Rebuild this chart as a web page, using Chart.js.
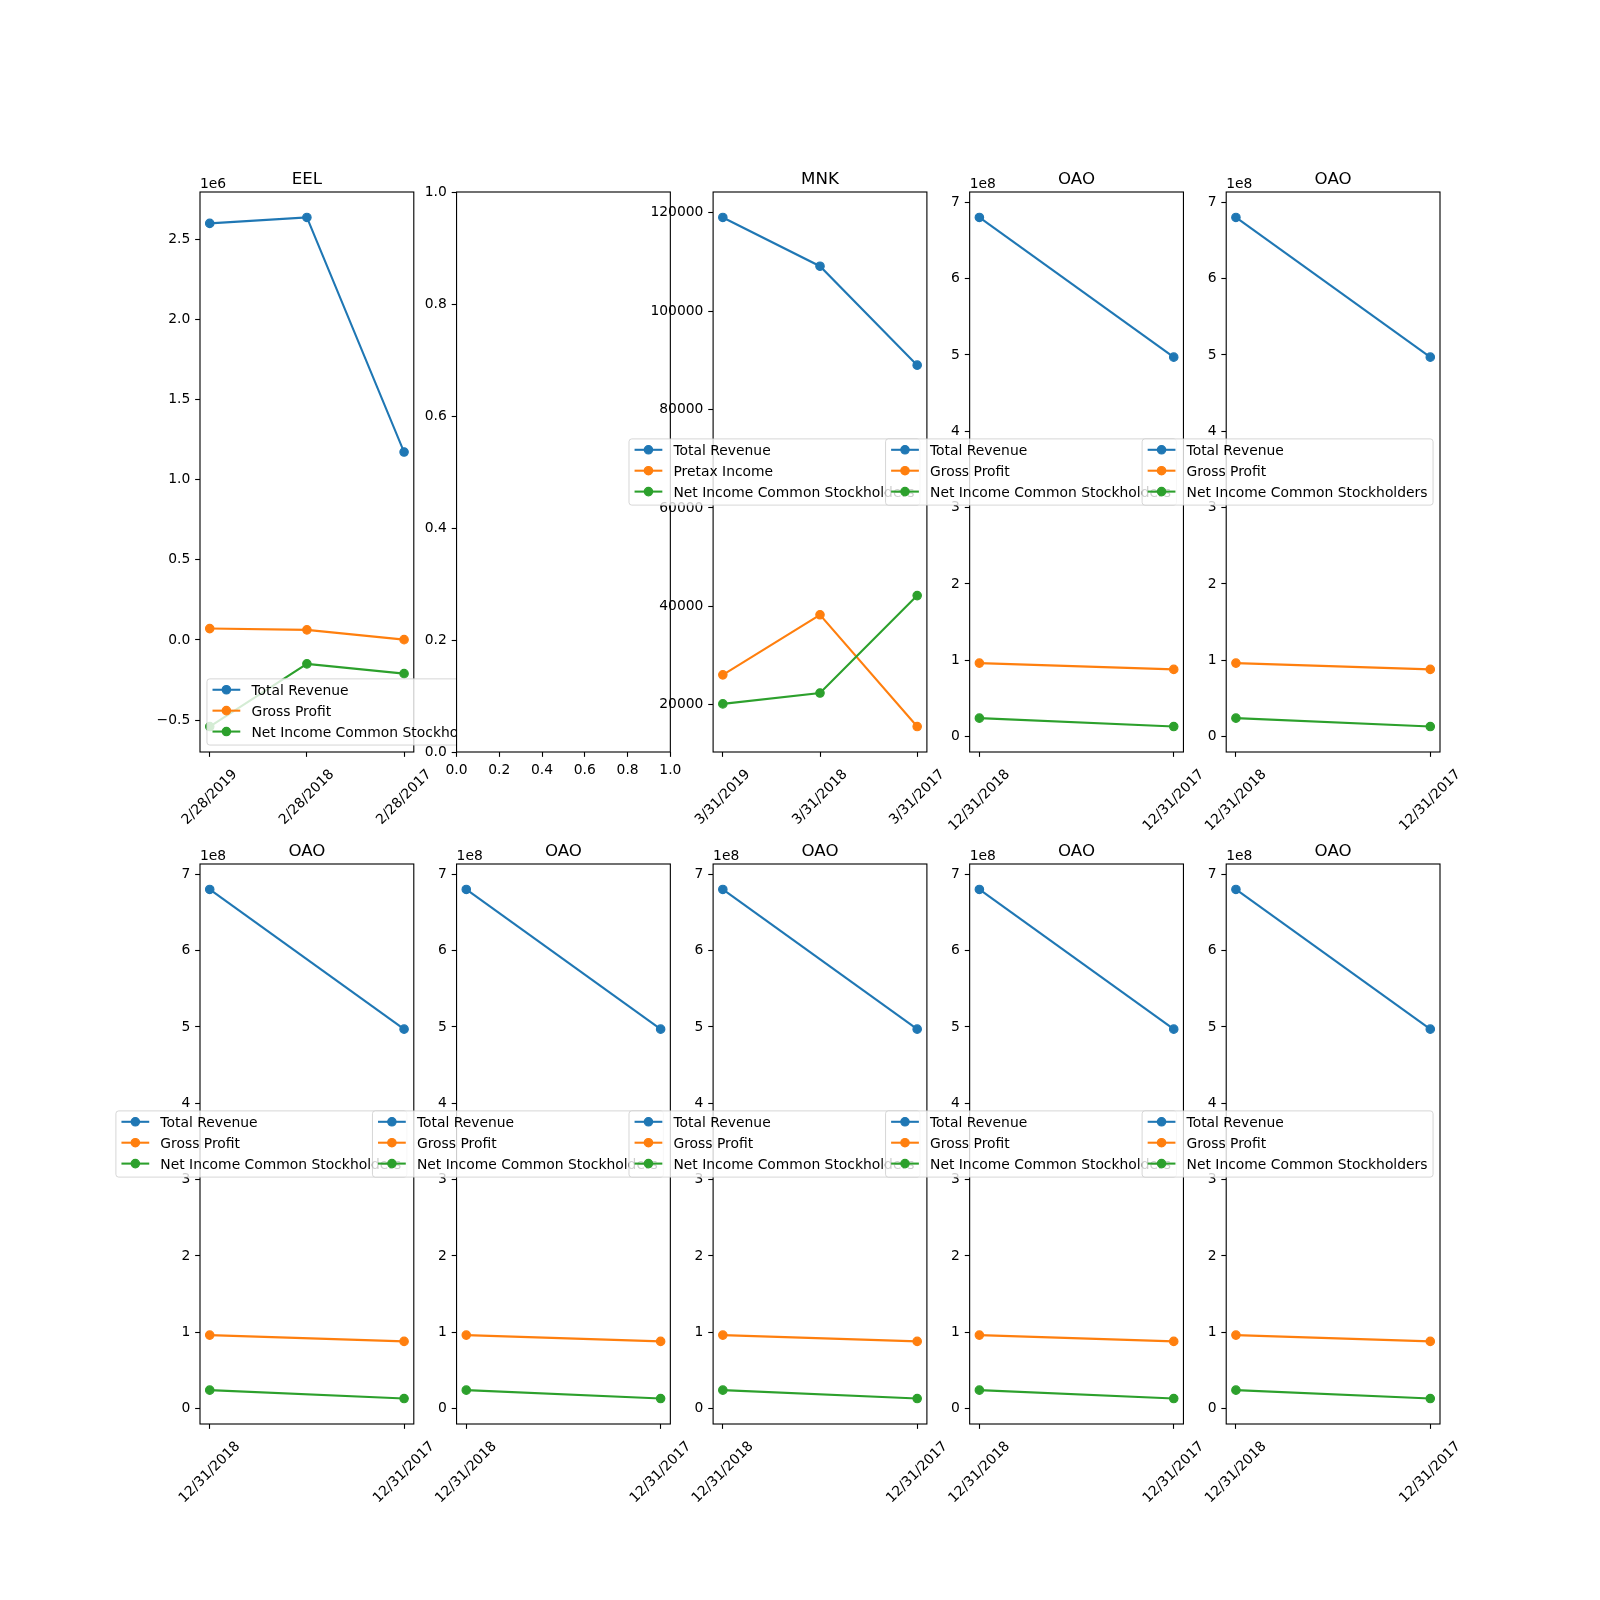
<!DOCTYPE html>
<html><head><meta charset="utf-8">
<script src="https://cdn.jsdelivr.net/npm/chart.js@4.4.1/dist/chart.umd.min.js"></script>
<style>
html,body{margin:0;padding:0;background:#fff;}
#fig{position:relative;width:1600px;height:1600px;background:#fff;overflow:hidden;}
#fig canvas{position:absolute;left:0;top:0;}
</style>
</head><body><div id="fig"></div>
<script>
// ---------------- data ----------------
const eelDates = ['2/28/2019', '2/28/2018', '2/28/2017'];
const eelTotalRevenue = [2598000, 2635000, 1172000];
const eelGrossProfit = [71000, 63000, 2000];
const eelNetIncome = [-540000, -149000, -210000];
const eelTicks = [-500000, 0, 500000, 1000000, 1500000, 2000000, 2500000];

const mnkDates = ['3/31/2019', '3/31/2018', '3/31/2017'];
const mnkTotalRevenue = [119000, 109100, 89000];
const mnkPretaxIncome = [26100, 38300, 15600];
const mnkNetIncome = [20200, 22400, 42200];
const mnkTicks = [20000, 40000, 60000, 80000, 100000, 120000];

const oaoDates = ['12/31/2018', '12/31/2017'];
const oaoTotalRevenue = [680200000, 497200000];
const oaoGrossProfit = [96300000, 88100000];
const oaoNetIncome = [24200000, 13200000];
const oaoTicks = [0, 100000000, 200000000, 300000000, 400000000, 500000000, 600000000, 700000000];

const emptyTicks = [0, 0.2, 0.4, 0.6, 0.8, 1.0];

const namesGross = ['Total Revenue', 'Gross Profit', 'Net Income Common Stockholders'];
const namesPretax = ['Total Revenue', 'Pretax Income', 'Net Income Common Stockholders'];

// ---------------- layout / style ----------------
const FONT = '"DejaVu Sans", sans-serif';
const FS = 13.89, TFS = 16.67;
const COLORS = ['#1f77b4', '#ff7f0e', '#2ca02c'];
const AX_W = 1240 / 5.8, AX_GAP = AX_W * 0.2, AX_H = 1232 / 2.2, ROW_GAP = AX_H * 0.2;
const Y_BOX = 120, X_BOX = 150;
function axBox(r, c) {
  const left = 200 + c * (AX_W + AX_GAP);
  const top = 192 + r * (AX_H + ROW_GAP);
  return {left, top, right: left + AX_W, bottom: top + AX_H};
}

const oao = () => ({title: 'OAO', dates: oaoDates, series: [oaoTotalRevenue, oaoGrossProfit, oaoNetIncome],
  names: namesGross, yTicks: oaoTicks, div: 1e8, dec: 0, offsetText: '1e8', loc: 'center right'});
const subplots = [
  {title: 'EEL', dates: eelDates, series: [eelTotalRevenue, eelGrossProfit, eelNetIncome],
   names: namesGross, yTicks: eelTicks, div: 1e6, dec: 1, offsetText: '1e6', loc: 'lower left'},
  {empty: true},
  {title: 'MNK', dates: mnkDates, series: [mnkTotalRevenue, mnkPretaxIncome, mnkNetIncome],
   names: namesPretax, yTicks: mnkTicks, div: 1, dec: 0, offsetText: '', loc: 'center right'},
  oao(), oao(), oao(), oao(), oao(), oao(), oao()
];

Chart.defaults.font.family = FONT;
Chart.defaults.font.size = FS;
Chart.defaults.color = '#000';

const measureCtx = document.createElement('canvas').getContext('2d');
function textW(t, size) { measureCtx.font = size + 'px ' + FONT; return measureCtx.measureText(t).width; }
function fmt(v, div, dec) {
  let s = (v / div).toFixed(dec);
  if (s[0] === '-') s = '\u2212' + s.slice(1);
  return s;
}

function roundRect(ctx, x, y, w, h, r) {
  ctx.beginPath();
  ctx.moveTo(x + r, y);
  ctx.lineTo(x + w - r, y); ctx.arcTo(x + w, y, x + w, y + r, r);
  ctx.lineTo(x + w, y + h - r); ctx.arcTo(x + w, y + h, x + w - r, y + h, r);
  ctx.lineTo(x + r, y + h); ctx.arcTo(x, y + h, x, y + h - r, r);
  ctx.lineTo(x, y + r); ctx.arcTo(x, y, x + r, y, r);
  ctx.closePath();
}

function drawLegend(ctx, ax, names, loc) {
  ctx.save();
  ctx.font = FS + 'px ' + FONT;
  const tw = Math.max(...names.map(n => ctx.measureText(n).width));
  const bp = 5.56, hl = 27.78, htp = 11.11, bap = 6.94;
  const W = 2 * bp + hl + htp + tw, H = 66.2;
  let x, y;
  if (loc === 'lower left') { x = ax.left + bap; y = ax.bottom - bap - H; }
  else { x = ax.right - bap - W; y = (ax.top + ax.bottom) / 2 - H / 2; }
  roundRect(ctx, x, y, W, H, 2.8);
  ctx.fillStyle = 'rgba(255,255,255,0.8)';
  ctx.fill();
  ctx.strokeStyle = 'rgba(204,204,204,0.8)';
  ctx.lineWidth = 1;
  ctx.stroke();
  names.forEach((n, i) => {
    const cy = y + 10.9 + i * 20.9;
    ctx.strokeStyle = COLORS[i]; ctx.lineWidth = 2.08;
    ctx.beginPath(); ctx.moveTo(x + bp, cy); ctx.lineTo(x + bp + hl, cy); ctx.stroke();
    ctx.beginPath(); ctx.arc(x + bp + hl / 2, cy, 4.2, 0, Math.PI * 2);
    ctx.fillStyle = COLORS[i]; ctx.fill(); ctx.lineWidth = 1.2; ctx.stroke();
    ctx.fillStyle = '#000'; ctx.textAlign = 'left'; ctx.textBaseline = 'alphabetic';
    ctx.fillText(n, x + bp + hl + htp, cy + 5.1);
  });
  ctx.restore();
}

const fig = document.getElementById('fig');

subplots.forEach((sp, idx) => {
  const r = Math.floor(idx / 5), c = idx % 5;
  const ax = axBox(r, c);
  const cv = document.createElement('canvas');
  cv.width = 1600; cv.height = 1600;
  fig.appendChild(cv);

  let xmin, xmax, ymin, ymax, xTicks, yTicks, xLabel, yLabel, rot, lo, xpad, datasets;
  if (sp.empty) {
    xmin = 0; xmax = 1; ymin = 0; ymax = 1;
    xTicks = emptyTicks; yTicks = emptyTicks;
    xLabel = (v, i) => emptyTicks[i].toFixed(1);
    yLabel = (v, i) => emptyTicks[i].toFixed(1);
    rot = 0; lo = 0; xpad = 4.86; datasets = [];
  } else {
    const n = sp.dates.length, xm = (n - 1) * 0.05;
    xmin = -xm; xmax = n - 1 + xm;
    const all = sp.series.flat();
    const mn = Math.min(...all), mx = Math.max(...all), m = (mx - mn) * 0.05;
    ymin = mn - m; ymax = mx + m;
    xTicks = sp.dates.map((d, i) => i);
    yTicks = sp.yTicks;
    xLabel = (v, i) => sp.dates[i];
    yLabel = (v, i) => fmt(sp.yTicks[i], sp.div, sp.dec);
    rot = 45;
    lo = 0.3536 * textW(sp.dates[0], FS);
    xpad = 9.5;
    datasets = sp.series.map((s, k) => ({
      label: sp.names[k],
      data: s.map((v, i) => ({x: i, y: v})),
      borderColor: COLORS[k], backgroundColor: COLORS[k],
      pointBackgroundColor: COLORS[k], pointBorderColor: COLORS[k],
      borderWidth: 2.08, pointRadius: 4.2, pointBorderWidth: 1.2, pointHoverRadius: 4.2,
      tension: 0, fill: false, order: 3 - k
    }));
  }

  const plugin = {
    id: 'mpl' + idx,
    beforeDraw(chart) {
      const ctx = chart.ctx;
      ctx.save(); ctx.fillStyle = '#fff';
      ctx.fillRect(ax.left, ax.top, AX_W, AX_H);
      ctx.restore();
    },
    afterDraw(chart) {
      const ctx = chart.ctx;
      ctx.save();
      ctx.strokeStyle = '#000'; ctx.lineWidth = 1.11;
      ctx.strokeRect(ax.left, ax.top, AX_W, AX_H);
      if (!sp.empty) {
        ctx.fillStyle = '#000';
        ctx.font = TFS + 'px ' + FONT; ctx.textAlign = 'center'; ctx.textBaseline = 'alphabetic';
        ctx.fillText(sp.title, (ax.left + ax.right) / 2, ax.top - 8.33);
        if (sp.offsetText) {
          ctx.font = FS + 'px ' + FONT; ctx.textAlign = 'left';
          ctx.fillText(sp.offsetText, ax.left, ax.top - 4);
        }
      }
      ctx.restore();
      if (!sp.empty) drawLegend(ctx, ax, sp.names, sp.loc);
    }
  };

  const gridOpts = {display: true, drawOnChartArea: false, drawTicks: true, tickLength: 4.86,
    tickWidth: 1.11, tickColor: '#000', color: 'rgba(0,0,0,0)'};

  new Chart(cv, {
    type: 'line',
    data: {datasets},
    options: {
      responsive: false, animation: false, devicePixelRatio: 1,
      events: [],
      layout: {padding: {left: ax.left - Y_BOX, top: ax.top, right: 1600 - ax.right, bottom: 1600 - ax.bottom - X_BOX}},
      plugins: {legend: {display: false}, title: {display: false}, tooltip: {enabled: false}},
      scales: {
        x: {
          type: 'linear', position: 'bottom', min: xmin, max: xmax,
          afterBuildTicks: s => { s.ticks = xTicks.map(v => ({value: v})); },
          afterFit: s => { s.height = X_BOX; s.paddingLeft = 0; s.paddingRight = 0; },
          ticks: {callback: xLabel, minRotation: rot, maxRotation: rot, autoSkip: false,
            padding: xpad, labelOffset: lo, color: '#000', font: {size: FS}},
          grid: gridOpts, border: {display: false}
        },
        y: {
          type: 'linear', position: 'left', min: ymin, max: ymax,
          afterBuildTicks: s => { s.ticks = yTicks.map(v => ({value: v})); },
          afterFit: s => { s.width = Y_BOX; s.paddingTop = 0; s.paddingBottom = 0; },
          ticks: {callback: yLabel, autoSkip: false, padding: 4.86, color: '#000', font: {size: FS}},
          grid: gridOpts, border: {display: false}
        }
      }
    },
    plugins: [plugin]
  });
});
</script>
</body></html>
